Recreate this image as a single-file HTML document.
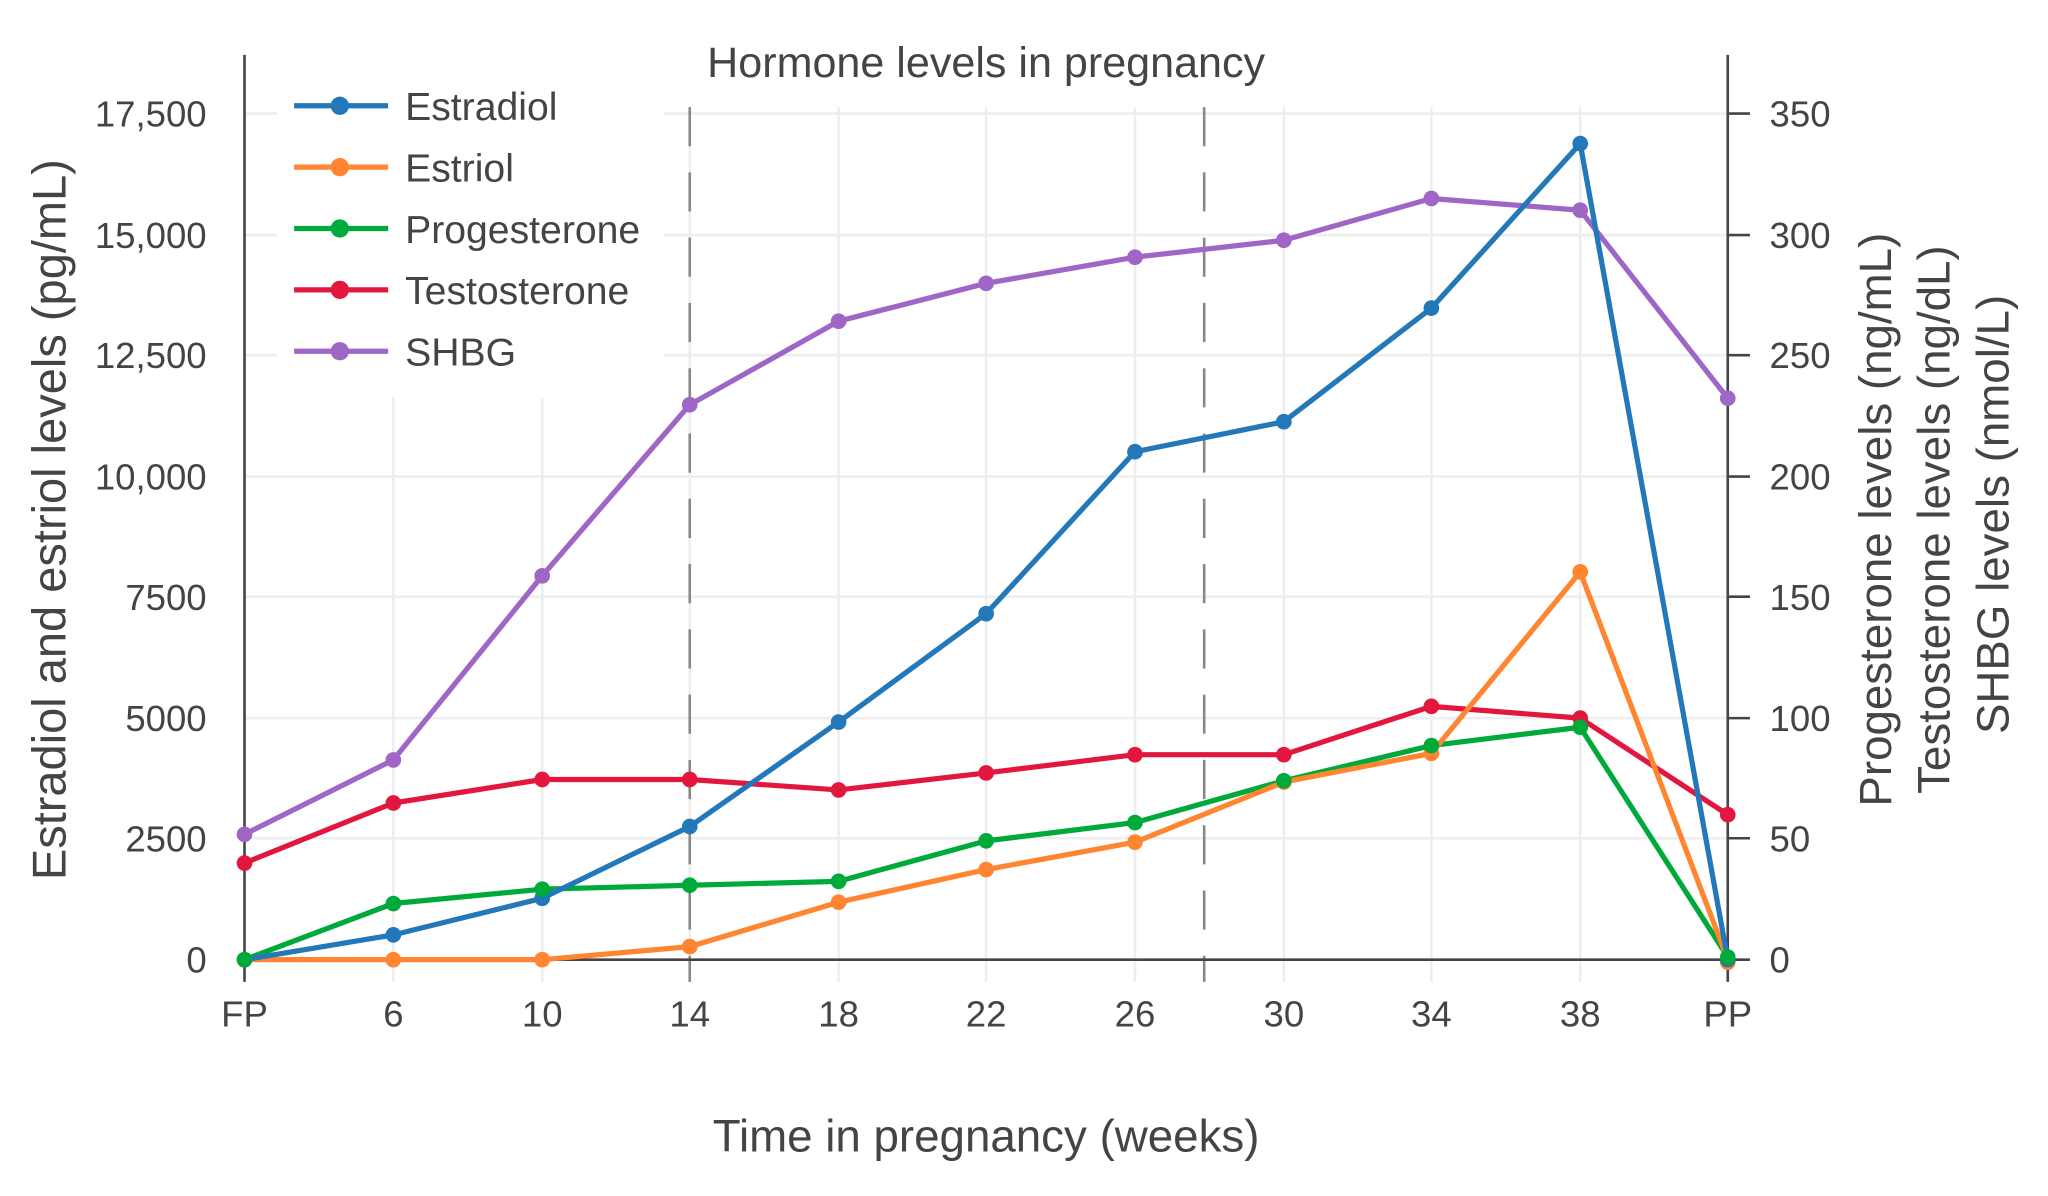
<!DOCTYPE html>
<html><head><meta charset="utf-8"><style>
html,body{margin:0;padding:0;background:#fff;}
svg{display:block;}
text{font-family:"Liberation Sans",sans-serif;fill:#444;}
</style></head><body>
<svg width="2048" height="1196" viewBox="0 0 1568 916" xmlns="http://www.w3.org/2000/svg">
<g stroke="#eeeeee" stroke-width="2">
<line x1="187" x2="1323" y1="87" y2="87"/><line x1="187" x2="1323" y1="180" y2="180"/>
<line x1="187" x2="1323" y1="272" y2="272"/><line x1="187" x2="1323" y1="365" y2="365"/>
<line x1="187" x2="1323" y1="457" y2="457"/><line x1="187" x2="1323" y1="550" y2="550"/>
<line x1="187" x2="1323" y1="642" y2="642"/>
<line x1="301" x2="301" y1="82" y2="752"/><line x1="415" x2="415" y1="82" y2="752"/>
<line x1="528" x2="528" y1="82" y2="752"/><line x1="642" x2="642" y1="82" y2="752"/>
<line x1="755" x2="755" y1="82" y2="752"/><line x1="869" x2="869" y1="82" y2="752"/>
<line x1="983" x2="983" y1="82" y2="752"/><line x1="1096" x2="1096" y1="82" y2="752"/>
<line x1="1210" x2="1210" y1="82" y2="752"/>
</g>
<g stroke="#888" stroke-width="2" stroke-dasharray="30,20">
<line x1="528" x2="528" y1="82" y2="752"/><line x1="922" x2="922" y1="82" y2="752"/>
</g>
<g stroke="#444" stroke-width="2">
<line x1="187" x2="187" y1="42" y2="752"/><line x1="1323" x2="1323" y1="42" y2="752"/>
<line x1="187" x2="1340" y1="735" y2="735"/>
<line x1="1323" x2="1340" y1="87" y2="87"/><line x1="1323" x2="1340" y1="180" y2="180"/>
<line x1="1323" x2="1340" y1="272" y2="272"/><line x1="1323" x2="1340" y1="365" y2="365"/>
<line x1="1323" x2="1340" y1="457" y2="457"/><line x1="1323" x2="1340" y1="550" y2="550"/>
<line x1="1323" x2="1340" y1="642" y2="642"/>
</g>
<rect x="212" y="58" width="296" height="246" fill="#fff"/>
<g fill="none" stroke-width="4" stroke-linejoin="round">
<polyline stroke="#9f66c6" points="187,639 301,582 415,441 528,310 642,246 755,217 869,197 983,184 1096,152 1210,161 1323,305"/>
<polyline stroke="#e3173e" points="187,661 301,615 415,597 528,597 642,605 755,592 869,578 983,578 1096,541 1210,550 1323,624"/>
<polyline stroke="#00aa3a" points="187,735 301,692 415,681 528,678 642,675 755,644 869,630 983,598 1096,571 1210,557 1323,733"/>
<polyline stroke="#ff8530" points="187,735 301,735 415,735 528,725 642,691 755,666 869,645 983,599 1096,577 1210,438 1323,735"/>
<polyline stroke="#2278b8" points="187,735 301,716 415,688 528,633 642,553 755,470 869,346 983,323 1096,236 1210,110 1323,735"/>
</g>
<g fill="#9f66c6"><circle cx="187" cy="639" r="6"/><circle cx="301" cy="582" r="6"/><circle cx="415" cy="441" r="6"/><circle cx="528" cy="310" r="6"/><circle cx="642" cy="246" r="6"/><circle cx="755" cy="217" r="6"/><circle cx="869" cy="197" r="6"/><circle cx="983" cy="184" r="6"/><circle cx="1096" cy="152" r="6"/><circle cx="1210" cy="161" r="6"/><circle cx="1323" cy="305" r="6"/></g>
<g fill="#e3173e"><circle cx="187" cy="661" r="6"/><circle cx="301" cy="615" r="6"/><circle cx="415" cy="597" r="6"/><circle cx="528" cy="597" r="6"/><circle cx="642" cy="605" r="6"/><circle cx="755" cy="592" r="6"/><circle cx="869" cy="578" r="6"/><circle cx="983" cy="578" r="6"/><circle cx="1096" cy="541" r="6"/><circle cx="1210" cy="550" r="6"/><circle cx="1323" cy="624" r="6"/></g>
<g fill="#ff8530"><circle cx="187" cy="735" r="6"/><circle cx="301" cy="735" r="6"/><circle cx="415" cy="735" r="6"/><circle cx="528" cy="725" r="6"/><circle cx="642" cy="691" r="6"/><circle cx="755" cy="666" r="6"/><circle cx="869" cy="645" r="6"/><circle cx="983" cy="599" r="6"/><circle cx="1096" cy="577" r="6"/><circle cx="1210" cy="438" r="6"/><circle cx="1323" cy="737" r="6"/></g>
<g fill="#2278b8"><circle cx="187" cy="735" r="6"/><circle cx="301" cy="716" r="6"/><circle cx="415" cy="688" r="6"/><circle cx="528" cy="633" r="6"/><circle cx="642" cy="553" r="6"/><circle cx="755" cy="470" r="6"/><circle cx="869" cy="346" r="6"/><circle cx="983" cy="323" r="6"/><circle cx="1096" cy="236" r="6"/><circle cx="1210" cy="110" r="6"/><circle cx="1323" cy="735" r="6"/></g>
<g fill="#00aa3a"><circle cx="187" cy="735" r="6"/><circle cx="301" cy="692" r="6"/><circle cx="415" cy="681" r="6"/><circle cx="528" cy="678" r="6"/><circle cx="642" cy="675" r="6"/><circle cx="755" cy="644" r="6"/><circle cx="869" cy="630" r="6"/><circle cx="983" cy="598" r="6"/><circle cx="1096" cy="571" r="6"/><circle cx="1210" cy="557" r="6"/><circle cx="1323" cy="733" r="6"/></g>
<g stroke-width="4">
<line x1="225" x2="297" y1="81" y2="81" stroke="#2278b8"/><line x1="225" x2="297" y1="128" y2="128" stroke="#ff8530"/>
<line x1="225" x2="297" y1="175" y2="175" stroke="#00aa3a"/><line x1="225" x2="297" y1="222" y2="222" stroke="#e3173e"/>
<line x1="225" x2="297" y1="269" y2="269" stroke="#9f66c6"/>
</g>
<circle cx="260" cy="81" r="7" fill="#2278b8"/><circle cx="260" cy="128" r="7" fill="#ff8530"/>
<circle cx="260" cy="175" r="7" fill="#00aa3a"/><circle cx="260" cy="222" r="7" fill="#e3173e"/>
<circle cx="260" cy="269" r="7" fill="#9f66c6"/>
<g font-size="30">
<text x="310" y="92">Estradiol</text><text x="310" y="139">Estriol</text><text x="310" y="186">Progesterone</text>
<text x="310" y="233">Testosterone</text><text x="310" y="280">SHBG</text>
</g>
<text x="755" y="59" font-size="33" text-anchor="middle">Hormone levels in pregnancy</text>
<g font-size="28" text-anchor="end">
<text x="158" y="97">17,500</text><text x="158" y="190">15,000</text><text x="158" y="282">12,500</text>
<text x="158" y="375">10,000</text><text x="158" y="467">7500</text><text x="158" y="560">5000</text>
<text x="158" y="652">2500</text><text x="158" y="745">0</text>
</g>
<g font-size="28">
<text x="1355" y="97">350</text><text x="1355" y="190">300</text><text x="1355" y="282">250</text>
<text x="1355" y="375">200</text><text x="1355" y="467">150</text><text x="1355" y="560">100</text>
<text x="1355" y="652">50</text><text x="1355" y="745">0</text>
</g>
<g font-size="28" text-anchor="middle">
<text x="187" y="786">FP</text><text x="301" y="786">6</text><text x="415" y="786">10</text><text x="528" y="786">14</text>
<text x="642" y="786">18</text><text x="755" y="786">22</text><text x="869" y="786">26</text><text x="983" y="786">30</text>
<text x="1096" y="786">34</text><text x="1210" y="786">38</text><text x="1323" y="786">PP</text>
</g>
<text x="755" y="882" font-size="35" text-anchor="middle">Time in pregnancy (weeks)</text>
<text transform="translate(50,398) rotate(-90)" font-size="36" text-anchor="middle">Estradiol and estriol levels (pg/mL)</text>
<g font-size="35" text-anchor="middle">
<text transform="translate(1448,398) rotate(-90)">Progesterone levels (ng/mL)</text>
<text transform="translate(1493,398) rotate(-90)">Testosterone levels (ng/dL)</text>
<text transform="translate(1538,394) rotate(-90)">SHBG levels (nmol/L)</text>
</g>
</svg>
</body></html>
